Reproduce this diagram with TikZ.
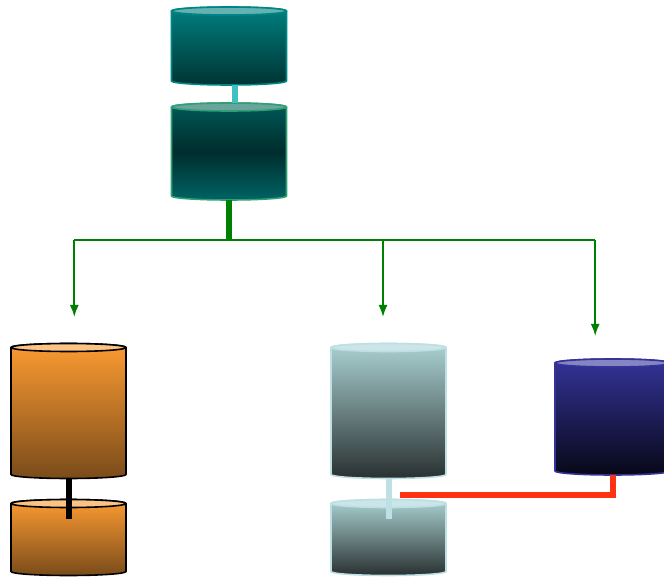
\documentclass[tikz,border=0pt]{standalone}
\usepackage{xcolor}
\usetikzlibrary{arrows.meta}
\definecolor{tealedge}{HTML}{008585}
\definecolor{seaedge}{HTML}{2F9F74}
\definecolor{seacapfill}{HTML}{6BA49C}
\definecolor{orangetop}{HTML}{FC9B32}
\definecolor{orangelow}{HTML}{7A4B1A}
\definecolor{paleedge}{HTML}{BEDFE3}
\definecolor{paletop}{HTML}{AAD1D2}
\definecolor{palelow}{HTML}{293030}
\definecolor{blueedge}{HTML}{333399}
\definecolor{tealink}{HTML}{40C0C0}
\definecolor{redlink}{HTML}{FF3311}
\tikzset{
	tankbox/.style={shape=rectangle,inner sep=0pt,outer sep=0pt,minimum width=115pt},
	tankline/.style={line width=1.6pt,line join=round},
	tealtank/.style={tankline,draw=tealedge,top color=teal!100!black,bottom color=teal!40!black},
	seatank/.style={tankline,draw=seaedge,top color=teal!70!black,bottom color=teal!78!black,middle color=teal!35!black},
	orangetank/.style={tankline,draw=black,top color=orangetop,bottom color=orangelow},
	paletank/.style={tankline,draw=paleedge,top color=paletop,bottom color=palelow},
	bluetank/.style={tankline,draw=blueedge,top color=blueedge,bottom color=blueedge!15!black},
	tealcap/.style={tankline,draw=tealedge,fill=teal!60!white},
	seacap/.style={tankline,draw=seaedge,fill=seacapfill},
	orangecap/.style={tankline,draw=black,fill=orangetop!60!white},
	palecap/.style={tankline,draw=paleedge,fill=paleedge!80!white},
	bluecap/.style={tankline,draw=blueedge,fill=blueedge!60!white},
	link/.style={line width=6pt},
	bus/.style={line width=1.8pt,draw=green!50!black}
}
\newcommand{\tankbody}[3]{
	\path [#2] ([yshift=-4pt]#1.north west) -- ([yshift=4pt]#1.south west) arc (180:360:57.5 and 4) -- ([yshift=-4pt]#1.north east) arc (0:180:57.5 and 4) -- cycle;
	\draw [#3] ([yshift=-4pt]#1.north) ellipse (57.5 and 4);
}
\begin{document}
\begin{tikzpicture}[x=1pt,y=1pt]
		\useasboundingbox (0,0) rectangle (664,-577);
		% tanks
		\node [tankbox,minimum height=78pt] (teal) at (229,-46) {};
		\node [tankbox,minimum height=97pt] (sea) at (229,-151.5) {};
		\node [tankbox,minimum height=135pt] (orangeBig) at (68.5,-411) {};
		\node [tankbox,minimum height=76pt] (orangeSmall) at (68.5,-537.5) {};
		\node [tankbox,minimum height=135pt] (paleBig) at (388.5,-411) {};
		\node [tankbox,minimum height=76pt] (paleSmall) at (388.5,-537.5) {};
		\node [tankbox,minimum height=116pt] (blue) at (612.5,-417) {};
		\tankbody{teal}{tealtank}{tealcap}
		\tankbody{sea}{seatank}{seacap}
		\tankbody{orangeBig}{orangetank}{orangecap}
		\tankbody{orangeSmall}{orangetank}{orangecap}
		\tankbody{paleBig}{paletank}{palecap}
		\tankbody{paleSmall}{paletank}{palecap}
		\tankbody{blue}{bluetank}{bluecap}
		% links
		\draw [link,draw=tealink] ([xshift=6pt]teal.south) -- ([xshift=6pt]sea.north);
		\coordinate (busTop) at (229,-240);
		\draw [link,draw=green!50!black] (sea.south) -- (busTop);
		\draw [link,draw=black] (orangeBig.south) -- ([yshift=-19pt]orangeSmall.north);
		\draw [link,draw=paleedge] (paleBig.south) -- ([yshift=-19pt]paleSmall.north);
		\coordinate (redEnd) at (400,-495);
		\draw [link,draw=redlink] (blue.south) |- (redEnd);
		% bus
		\coordinate (busLeft) at (74.3,-240);
		\coordinate (busMid) at (383,-240);
		\coordinate (busRight) at (595.2,-240);
		\coordinate (tipLeft) at (74.3,-317);
		\coordinate (tipMid) at (383,-317);
		\coordinate (tipRight) at (595.2,-336);
		\draw [bus] (busLeft) -- (busRight);
		\draw [bus,-{Latex[length=12pt,width=9pt]}] (busLeft) -- (tipLeft);
		\draw [bus,-{Latex[length=12pt,width=9pt]}] (busMid) -- (tipMid);
		\draw [bus,-{Latex[length=12pt,width=9pt]}] (busRight) -- (tipRight);
	\end{tikzpicture}
\end{document}
